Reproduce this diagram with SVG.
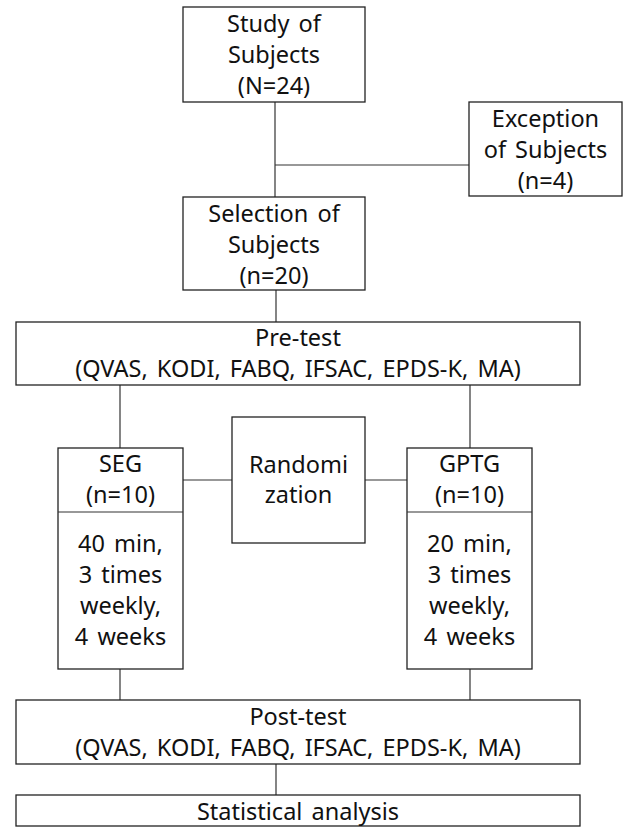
<svg xmlns="http://www.w3.org/2000/svg" width="624" height="827" viewBox="0 0 624 827">
<style>
rect{fill:#fff;stroke:#222;stroke-width:1.3}
.c line{stroke:#333;stroke-width:1.2}
text{font-family:"Noto Sans","Open Sans","DejaVu Sans",sans-serif;font-size:23.5px;fill:#111;text-anchor:middle;word-spacing:3px}
</style>
<rect x="0" y="0" width="624" height="827" style="stroke:none"/>
<g class="c" id="connectors">
<line x1="275" y1="102" x2="275" y2="197"/>
<line x1="275" y1="165" x2="469" y2="165"/>
<line x1="276" y1="290" x2="276" y2="322"/>
<line x1="120" y1="385" x2="120" y2="448"/>
<line x1="470" y1="385" x2="470" y2="448"/>
<line x1="183" y1="480" x2="232" y2="480"/>
<line x1="365" y1="480" x2="407" y2="480"/>
<line x1="120" y1="669" x2="120" y2="700"/>
<line x1="470" y1="669" x2="470" y2="700"/>
<line x1="276" y1="764" x2="276" y2="795"/>
</g>
<g id="study">
<rect x="183" y="7" width="182" height="95"/>
<text x="274" y="32">Study of</text>
<text x="274" y="63">Subjects</text>
<text x="274" y="94">(N=24)</text>
</g>
<g id="exception">
<rect x="469" y="102" width="153" height="94"/>
<text x="545.5" y="127">Exception</text>
<text x="545.5" y="158">of Subjects</text>
<text x="545.5" y="189">(n=4)</text>
</g>
<g id="selection">
<rect x="183" y="197" width="182" height="93"/>
<text x="274" y="222">Selection of</text>
<text x="274" y="253">Subjects</text>
<text x="274" y="284">(n=20)</text>
</g>
<g id="pretest">
<rect x="16" y="322" width="564" height="63"/>
<text x="298" y="346">Pre-test</text>
<text x="298" y="377">(QVAS, KODI, FABQ, IFSAC, EPDS-K, MA)</text>
</g>
<g id="seg">
<rect x="58" y="448" width="125" height="221"/>
<line x1="58" y1="512" x2="183" y2="512" style="stroke:#333;stroke-width:1.2"/>
<text x="120.5" y="472">SEG</text>
<text x="120.5" y="503">(n=10)</text>
<text x="120.5" y="552">40 min,</text>
<text x="120.5" y="583">3 times</text>
<text x="120.5" y="614">weekly,</text>
<text x="120.5" y="645">4 weeks</text>
</g>
<g id="randomization">
<rect x="232" y="417" width="133" height="126"/>
<text x="298.5" y="473">Randomi</text>
<text x="298.5" y="503">zation</text>
</g>
<g id="gptg">
<rect x="407" y="448" width="125" height="221"/>
<line x1="407" y1="512" x2="532" y2="512" style="stroke:#333;stroke-width:1.2"/>
<text x="469.5" y="472">GPTG</text>
<text x="469.5" y="503">(n=10)</text>
<text x="469.5" y="552">20 min,</text>
<text x="469.5" y="583">3 times</text>
<text x="469.5" y="614">weekly,</text>
<text x="469.5" y="645">4 weeks</text>
</g>
<g id="posttest">
<rect x="16" y="700" width="564" height="64"/>
<text x="298" y="725">Post-test</text>
<text x="298" y="756">(QVAS, KODI, FABQ, IFSAC, EPDS-K, MA)</text>
</g>
<g id="stat">
<rect x="16" y="795" width="564" height="31"/>
<text x="298" y="820">Statistical analysis</text>
</g>
</svg>
